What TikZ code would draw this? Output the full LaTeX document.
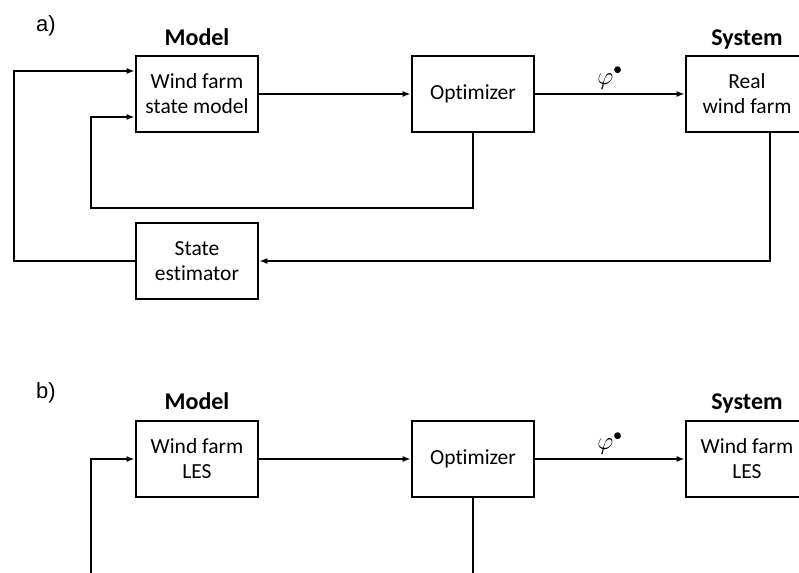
\documentclass[tikz,border=0pt]{standalone}
\usepackage{fontspec}
\setmainfont[Ligatures={NoCommon}]{Carlito}
\newfontfamily\arialf{Liberation Sans}
\usetikzlibrary{arrows.meta,calc}
\tikzset{
  blk/.style={draw, line width=2.6pt, minimum width=122pt, minimum height=76pt, align=center, font=\fontsize{21.5}{25}\selectfont, inner sep=0pt},
  ttl/.style={font=\fontsize{24}{28}\selectfont\bfseries, anchor=base},
  panel/.style={font=\arialf\fontsize{22}{26}\selectfont},
  con/.style={line width=1.6pt},
  arr/.style={con, -{Latex[length=8pt,width=6pt]}},
  lbl/.style={font=\fontsize{24}{28}\selectfont}
}
\begin{document}
\begin{tikzpicture}[x=1pt,y=-1pt]
\useasboundingbox (0,0) rectangle (799,572);
\clip (0,0) rectangle (799,572);
% panel a
\node[panel] (pa) at (46,26) {a)};
\node[ttl] (ma) at (197,45.5) {Model};
\node[ttl] (sa) at (747,45.5) {System};
\node[blk] (wfs) at (197,94) {Wind farm\\state model};
\node[blk] (opa) at (473,94) {Optimizer};
\node[blk] (rwf) at (747,94) {Real\\wind farm};
\node[blk] (se) at (197,261) {State\\estimator};
\coordinate (c1) at (473,208);
\coordinate (c2) at (91,208);
\coordinate (c3) at (91,117);
\coordinate (c4) at (770,261);
\coordinate (c5) at (14,261);
\coordinate (c6) at (14,71);
\draw[arr] (wfs.east) -- (opa.west);
\draw[arr] (opa.east) -- node[lbl, above=1pt] (phia) {$\varphi^{\bullet}$} (rwf.west);
\draw[arr] (opa.south) -- (c1) -- (c2) -- (c3) -- (c3 -| wfs.west);
\draw[arr] (c4 |- rwf.south) -- (c4) -- (se.east);
\draw[arr] (se.west) -- (c5) -- (c6) -- (c6 -| wfs.west);
% panel b
\node[panel] (pb) at (46,393) {b)};
\node[ttl] (mb) at (197,409) {Model};
\node[ttl] (sb) at (747,409) {System};
\node[blk] (les) at (197,459) {Wind farm\\LES};
\node[blk] (opb) at (473,459) {Optimizer};
\node[blk] (lesb) at (747,459) {Wind farm\\LES};
\coordinate (d1) at (91,590);
\coordinate (d2) at (91,459);
\coordinate (d3) at (473,590);
\draw[arr] (les.east) -- (opb.west);
\draw[arr] (opb.east) -- node[lbl, above=1pt] (phib) {$\varphi^{\bullet}$} (lesb.west);
\draw[arr] (d1) -- (d2) -- (les.west);
\draw[con] (opb.south) -- (d3);
\end{tikzpicture}
\end{document}
